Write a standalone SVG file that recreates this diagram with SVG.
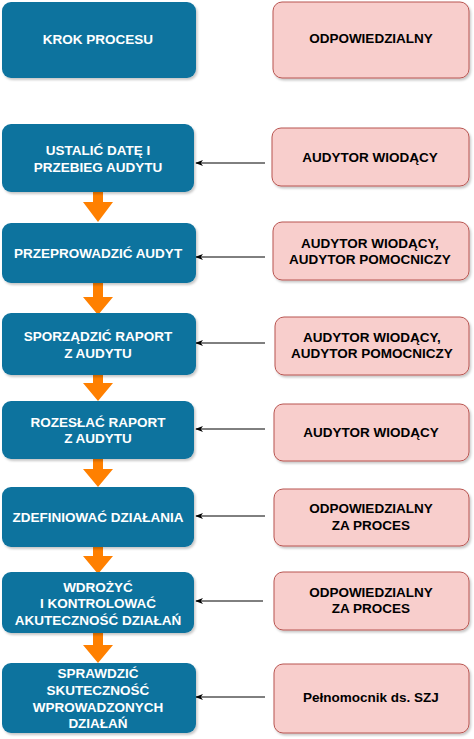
<svg xmlns="http://www.w3.org/2000/svg" width="474" height="739" viewBox="0 0 474 739">
<defs>
<filter id="sh" x="-10%" y="-10%" width="120%" height="130%">
<feDropShadow dx="1.5" dy="2" stdDeviation="1" flood-color="#000" flood-opacity="0.22"/>
</filter>
<marker id="ah" viewBox="0 0 10 10" refX="9" refY="5" markerWidth="8" markerHeight="8" orient="auto" markerUnits="userSpaceOnUse">
<path d="M0,1 L10,5 L0,9 L3,5 Z" fill="#000"/>
</marker>
</defs>
<style>
.step{fill:#10739E;filter:url(#sh)}
.role{fill:#F8CECC;stroke:#B85450;stroke-width:1;filter:url(#sh)}
text{font-family:"Liberation Sans",Arial,sans-serif;font-weight:bold;font-size:13.5px;text-anchor:middle}
.st{fill:#fff}
.rt{fill:#000}
.conn{stroke:#000;stroke-width:1;fill:none;marker-end:url(#ah)}
.flow{fill:#FF8000}
</style>
<g id="flow-arrows">
<path class="flow" d="M93,192 H103 V202 H113 L98,222 L83,202 H93 Z"/>
<path class="flow" d="M93,283 H103 V297 H113 L98,315 L83,297 H93 Z"/>
<path class="flow" d="M93,375 H103 V383 H113 L98,401 L83,383 H93 Z"/>
<path class="flow" d="M93,459 H103 V469 H113 L98,487 L83,469 H93 Z"/>
<path class="flow" d="M93,547 H103 V556 H113 L98,574 L83,556 H93 Z"/>
<path class="flow" d="M93,633 H103 V645 H113 L98,663 L83,645 H93 Z"/>
</g>
<g id="connectors">
<line class="conn" x1="265" y1="163" x2="196" y2="163"/>
<line class="conn" x1="265" y1="257" x2="196" y2="257"/>
<line class="conn" x1="265" y1="343" x2="196" y2="343"/>
<line class="conn" x1="265" y1="429" x2="196" y2="429"/>
<line class="conn" x1="265" y1="516" x2="196" y2="516"/>
<line class="conn" x1="263" y1="601" x2="196" y2="601"/>
<line class="conn" x1="265" y1="697" x2="196" y2="697"/>
</g>
<g id="step-header"><rect class="step" x="2" y="2" width="194" height="76" rx="9"/><text class="st" x="98" y="44">KROK PROCESU</text></g>
<g id="step-1"><rect class="step" x="2" y="124" width="192" height="68" rx="9"/><text class="st" x="98" y="155">USTALIĆ DATĘ I</text><text class="st" x="98" y="172">PRZEBIEG AUDYTU</text></g>
<g id="step-2"><rect class="step" x="2" y="223" width="194" height="60" rx="9"/><text class="st" x="98" y="258">PRZEPROWADZIĆ AUDYT</text></g>
<g id="step-3"><rect class="step" x="2" y="313" width="194" height="62" rx="9"/><text class="st" x="98" y="341">SPORZĄDZIĆ RAPORT</text><text class="st" x="98" y="358">Z AUDYTU</text></g>
<g id="step-4"><rect class="step" x="2" y="401" width="192" height="58" rx="9"/><text class="st" x="98" y="427">ROZESŁAĆ RAPORT</text><text class="st" x="98" y="443">Z AUDYTU</text></g>
<g id="step-5"><rect class="step" x="2" y="487" width="192" height="60" rx="9"/><text class="st" x="98" y="522">ZDEFINIOWAĆ DZIAŁANIA</text></g>
<g id="step-6"><rect class="step" x="2" y="572" width="192" height="61" rx="9"/><text class="st" x="98" y="592">WDROŻYĆ</text><text class="st" x="98" y="608">I KONTROLOWAĆ</text><text class="st" x="98" y="625">AKUTECZNOŚĆ DZIAŁAŃ</text></g>
<g id="step-7"><rect class="step" x="2" y="663" width="194" height="70" rx="9"/><text class="st" x="98" y="678">SPRAWDZIĆ</text><text class="st" x="98" y="695">SKUTECZNOŚĆ</text><text class="st" x="98" y="712">WPROWADZONYCH</text><text class="st" x="98" y="728">DZIAŁAŃ</text></g>
<g id="role-header"><rect class="role" x="273" y="2" width="196" height="76" rx="9"/><text class="rt" x="371" y="43">ODPOWIEDZIALNY</text></g>
<g id="role-1"><rect class="role" x="272" y="128" width="197" height="58" rx="9"/><text class="rt" x="370" y="162">AUDYTOR WIODĄCY</text></g>
<g id="role-2"><rect class="role" x="273" y="222" width="196" height="58" rx="9"/><text class="rt" x="370" y="248">AUDYTOR WIODĄCY,</text><text class="rt" x="370" y="264">AUDYTOR POMOCNICZY</text></g>
<g id="role-3"><rect class="role" x="275" y="317" width="194" height="58" rx="9"/><text class="rt" x="372" y="342">AUDYTOR WIODĄCY,</text><text class="rt" x="372" y="358">AUDYTOR POMOCNICZY</text></g>
<g id="role-4"><rect class="role" x="274" y="404" width="195" height="57" rx="9"/><text class="rt" x="371" y="437">AUDYTOR WIODĄCY</text></g>
<g id="role-5"><rect class="role" x="274" y="489" width="195" height="57" rx="9"/><text class="rt" x="371" y="513">ODPOWIEDZIALNY</text><text class="rt" x="371" y="530">ZA PROCES</text></g>
<g id="role-6"><rect class="role" x="274" y="572" width="195" height="58" rx="9"/><text class="rt" x="371" y="597">ODPOWIEDZIALNY</text><text class="rt" x="371" y="613">ZA PROCES</text></g>
<g id="role-7"><rect class="role" x="274" y="664" width="195" height="69" rx="9"/><text class="rt" x="371" y="702">Pełnomocnik ds. SZJ</text></g>
</svg>
